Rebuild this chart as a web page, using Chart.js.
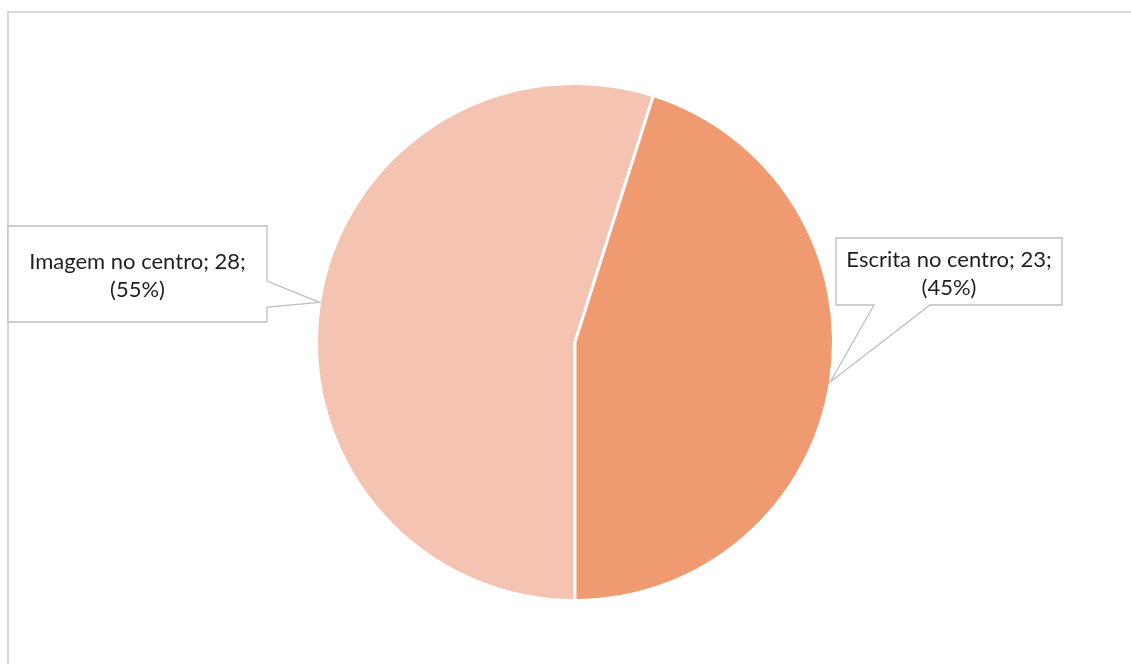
<!DOCTYPE html>
<html>
<head>
<meta charset="utf-8">
<script src="https://cdn.jsdelivr.net/npm/chart.js@4.4.0/dist/chart.umd.min.js"></script>
<style>
  body { margin: 0; background: #fff; }
  #wrap { width: 1131px; height: 664px; }
</style>
</head>
<body>
<div id="wrap"><canvas id="pieChart" width="1131" height="664"></canvas></div>
<script>
const categories = ["Imagem no centro", "Escrita no centro"];
const counts = [28, 23];
const sliceColors = ["#F5C3B1", "#F09A71"];

// callout boxes (layout only), one per slice
const calloutBoxes = [
  { x: 8, y: 226, w: 259, h: 96, side: "right", a: 281, b: 307 },
  { x: 836, y: 238, w: 226, h: 67, side: "bottom", a: 874, b: 930 },
];

const total = counts.reduce((s, v) => s + v, 0);

const frameAndCallouts = {
  id: "frameAndCallouts",
  beforeDraw(chart) {
    const ctx = chart.ctx;
    ctx.save();
    ctx.fillStyle = "#fff";
    ctx.fillRect(0, 0, chart.width, chart.height);
    ctx.strokeStyle = "#D9D9D9";
    ctx.lineWidth = 2;
    ctx.strokeRect(8, 12, 1300, 800);
    ctx.restore();
  },
  afterDraw(chart) {
    const ctx = chart.ctx;
    const meta = chart.getDatasetMeta(0);
    meta.data.forEach((arc, i) => {
      const p = arc.getProps(["x", "y", "startAngle", "endAngle", "outerRadius"], true);
      const mid = (p.startAngle + p.endAngle) / 2;
      const tx = p.x + Math.cos(mid) * p.outerRadius;
      const ty = p.y + Math.sin(mid) * p.outerRadius;
      const bx = calloutBoxes[i];
      ctx.save();
      ctx.beginPath();
      if (bx.side === "right") {
        ctx.moveTo(bx.x, bx.y);
        ctx.lineTo(bx.x + bx.w, bx.y);
        ctx.lineTo(bx.x + bx.w, bx.a);
        ctx.lineTo(tx, ty);
        ctx.lineTo(bx.x + bx.w, bx.b);
        ctx.lineTo(bx.x + bx.w, bx.y + bx.h);
        ctx.lineTo(bx.x, bx.y + bx.h);
      } else {
        ctx.moveTo(bx.x, bx.y);
        ctx.lineTo(bx.x + bx.w, bx.y);
        ctx.lineTo(bx.x + bx.w, bx.y + bx.h);
        ctx.lineTo(bx.b, bx.y + bx.h);
        ctx.lineTo(tx, ty);
        ctx.lineTo(bx.a, bx.y + bx.h);
        ctx.lineTo(bx.x, bx.y + bx.h);
      }
      ctx.closePath();
      ctx.fillStyle = "#fff";
      ctx.fill();
      ctx.strokeStyle = "#BFBFBF";
      ctx.lineWidth = 1.3;
      ctx.stroke();

      const pct = Math.round((counts[i] / total) * 100);
      const cx = bx.x + bx.w / 2;
      const cy = bx.y + bx.h / 2;
      ctx.fillStyle = "#1F1F1F";
      ctx.font = "22px Lato, 'Open Sans', sans-serif";
      ctx.textAlign = "center";
      ctx.textBaseline = "middle";
      ctx.fillText(categories[i] + "; " + counts[i] + ";", cx, cy - 12);
      ctx.fillText("(" + pct + "%)", cx, cy + 16);
      ctx.restore();
    });
  },
};

new Chart(document.getElementById("pieChart"), {
  type: "pie",
  data: {
    labels: categories,
    datasets: [
      {
        data: counts,
        backgroundColor: sliceColors,
        borderColor: "#fff",
        borderWidth: 3,
      },
    ],
  },
  options: {
    responsive: false,
    animation: false,
    rotation: 180,
    layout: { padding: { top: 82, bottom: 62, left: 315, right: 296 } },
    plugins: {
      legend: { display: false },
      tooltip: { enabled: false },
    },
  },
  plugins: [frameAndCallouts],
});
</script>
</body>
</html>
